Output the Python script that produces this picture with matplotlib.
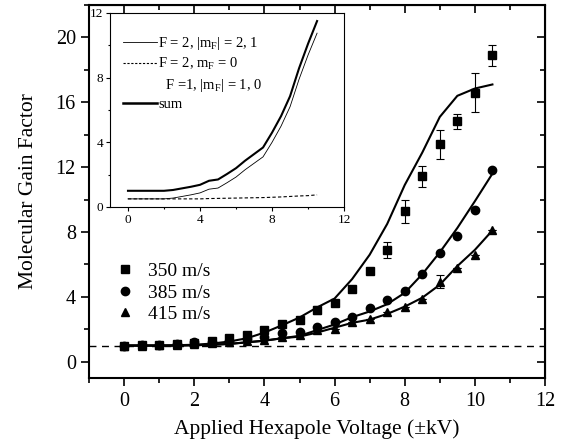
import numpy as np
import matplotlib
matplotlib.use('Agg')
import matplotlib.pyplot as plt
from matplotlib.lines import Line2D
from matplotlib.ticker import MultipleLocator

plt.rcParams['font.family'] = ['Liberation Serif', 'DejaVu Serif']
plt.rcParams['mathtext.fontset'] = 'custom'
plt.rcParams['mathtext.rm'] = 'Liberation Serif'
plt.rcParams['mathtext.it'] = 'Liberation Serif'

# hexapole voltage steps (kV)
volt = np.arange(0, 11, 0.5)

# measured gain, 350 m/s
g350 = [1.0, 1.02, 1.05, 1.1, 1.15, 1.3, 1.44, 1.64, 1.95, 2.3, 2.6, 3.2,
        3.65, 4.5, 5.6, 6.9, 9.27, 11.43, 13.4, 14.83, 16.6, 18.9]
e350 = [0, 0, 0, 0, 0, 0, 0, 0, 0, 0, 0, 0.25,
        0, 0, 0, 0.5, 0.7, 0.65, 0.9, 0.45, 1.2, 0.65]
# measured gain, 385 m/s
g385 = [1.0, 1.02, 1.05, 1.1, 1.2, 1.2, 1.3, 1.4, 1.5, 1.75, 1.85, 2.15,
        2.46, 2.77, 3.32, 3.8, 4.37, 5.44, 6.73, 7.75, 9.38, 11.84]
# measured gain, 415 m/s
g415 = [1.0, 1.0, 1.02, 1.05, 1.1, 1.15, 1.2, 1.3, 1.35, 1.5, 1.64, 1.95,
        2.05, 2.46, 2.63, 3.08, 3.38, 3.9, 4.92, 5.79, 6.57, 8.1]
e415 = [0, 0, 0, 0, 0, 0, 0, 0, 0, 0, 0, 0,
        0, 0, 0, 0, 0, 0, 0.4, 0, 0, 0]

# simulated gain curves
t350 = [1.0, 1.0, 1.0, 1.02, 1.05, 1.12, 1.25, 1.45, 1.8, 2.25, 2.73, 3.35,
        3.9, 5.1, 6.6, 8.5, 10.9, 12.9, 15.1, 16.4, 16.85, 17.1]
t385 = [1.0, 1.0, 1.0, 1.0, 1.02, 1.05, 1.1, 1.2, 1.3, 1.45, 1.6, 1.95,
        2.3, 2.75, 3.1, 3.55, 4.25, 5.4, 6.75, 8.25, 9.9, 11.6]
t415 = [1.0, 1.0, 1.0, 1.0, 1.02, 1.05, 1.1, 1.2, 1.3, 1.45, 1.55, 1.8,
        2.1, 2.4, 2.6, 2.95, 3.4, 3.95, 4.75, 5.9, 6.9, 8.1]

# inset: contributions of the hyperfine states
f2_m21 = [0.5, 0.5, 0.5, 0.5, 0.5, 0.55, 0.65, 0.75, 0.87, 1.1, 1.17, 1.5,
          1.85, 2.3, 2.7, 3.1, 4.0, 5.0, 6.2, 7.9, 9.4, 10.75]
f2_m0 = [0.5, 0.5, 0.5, 0.5, 0.5, 0.5, 0.5, 0.5, 0.5, 0.52, 0.53, 0.54,
         0.55, 0.56, 0.57, 0.58, 0.6, 0.62, 0.65, 0.68, 0.7, 0.75]
total = np.array(f2_m21) + np.array(f2_m0)

fig = plt.figure(figsize=(5.71, 4.47), dpi=100)
ax = fig.add_axes([0.156, 0.1544, 0.7985, 0.8344])

ax.axhline(1, color='k', lw=1, ls=(0, (5, 4)))
ax.plot(volt, t350, 'k-', lw=1.5)
ax.plot(volt, t385, 'k-', lw=1.5)
ax.plot(volt, t415, 'k-', lw=1.5)
ax.errorbar(volt, g350, yerr=e350, fmt='s', color='k', ms=5.5,
            elinewidth=0.8, capsize=3, capthick=0.8)
ax.plot(volt, g385, 'o', color='k', ms=6)
ax.errorbar(volt, g415, yerr=e415, fmt='^', color='k', ms=6,
            elinewidth=0.8, capsize=3, capthick=0.8)

ax.set_xlim(-1, 12)
ax.set_ylim(-1, 22)
ax.xaxis.set_major_locator(MultipleLocator(2))
ax.xaxis.set_minor_locator(MultipleLocator(1))
ax.yaxis.set_major_locator(MultipleLocator(4))
ax.yaxis.set_minor_locator(MultipleLocator(2))
ax.tick_params(which='both', direction='out', labelsize=14.5, width=1.2)
ax.tick_params(which='major', length=6)
ax.tick_params(which='minor', length=3.5)
ax.tick_params(axis='x', pad=4)
for s in ax.spines.values():
    s.set_linewidth(1.5)

# mirrored ticks pointing inward on top and right
top = ax.secondary_xaxis('top')
top.xaxis.set_major_locator(MultipleLocator(2))
top.xaxis.set_minor_locator(MultipleLocator(1))
top.tick_params(which='both', direction='in', labeltop=False, width=1.2)
top.tick_params(which='major', length=6)
top.tick_params(which='minor', length=3.5)
right = ax.secondary_yaxis('right')
right.yaxis.set_major_locator(MultipleLocator(4))
right.yaxis.set_minor_locator(MultipleLocator(2))
right.tick_params(which='both', direction='in', labelright=False, width=1.2)
right.tick_params(which='major', length=6)
right.tick_params(which='minor', length=3.5)

ax.set_xlabel('Applied Hexapole Voltage (\u00b1kV)', fontsize=15.5, labelpad=6)
ax.set_ylabel('Molecular Gain Factor', fontsize=15.5, labelpad=13)

speed_handles = [Line2D([], [], ls='none', marker='s', color='k', ms=5.5),
                 Line2D([], [], ls='none', marker='o', color='k', ms=6),
                 Line2D([], [], ls='none', marker='^', color='k', ms=6)]
speed_labels = ['350 m/s', '385 m/s', '415 m/s']
ax.legend(speed_handles, speed_labels, loc='center left',
          bbox_to_anchor=(0.04, 0.228), borderaxespad=0, frameon=False,
          fontsize=14, handlelength=1.0, handletextpad=0.7,
          labelspacing=0.2)

# inset
ins = fig.add_axes([0.1926, 0.537, 0.41, 0.434])
ins.plot(volt, f2_m21, 'k-', lw=0.6)
ins.plot(volt, f2_m0, 'k--', lw=0.8, dashes=(3, 2))
ins.plot(volt, total, 'k-', lw=1.5)
ins.set_xlim(-1, 12)
ins.set_ylim(0, 12)
ins.xaxis.set_major_locator(MultipleLocator(4))
ins.xaxis.set_minor_locator(MultipleLocator(2))
ins.yaxis.set_major_locator(MultipleLocator(4))
ins.yaxis.set_minor_locator(MultipleLocator(2))
ins.tick_params(which='both', direction='out', labelsize=9.5, pad=2, width=0.8)
ins.tick_params(which='major', length=3)
ins.tick_params(which='minor', length=1.5)
for s in ins.spines.values():
    s.set_linewidth(0.8)

handles = [Line2D([], [], color='k', lw=0.6),
           Line2D([], [], color='k', lw=0.8, ls='--', dashes=(2, 1.5)),
           Line2D([], [], color='none'),
           Line2D([], [], color='k', lw=1.8)]
labels = ['F = 2, |m$_\\mathrm{F}$| = 2, 1',
          'F = 2, m$_\\mathrm{F}$ = 0',
          '  F =1, |m$_\\mathrm{F}$| = 1, 0',
          'sum']
ins.legend(handles, labels, loc='upper left', bbox_to_anchor=(0.0, 0.955),
           frameon=False, fontsize=10.5, handlelength=2.3, handletextpad=0.1,
           labelspacing=0.3)

fig.savefig('out.png', dpi=100)
